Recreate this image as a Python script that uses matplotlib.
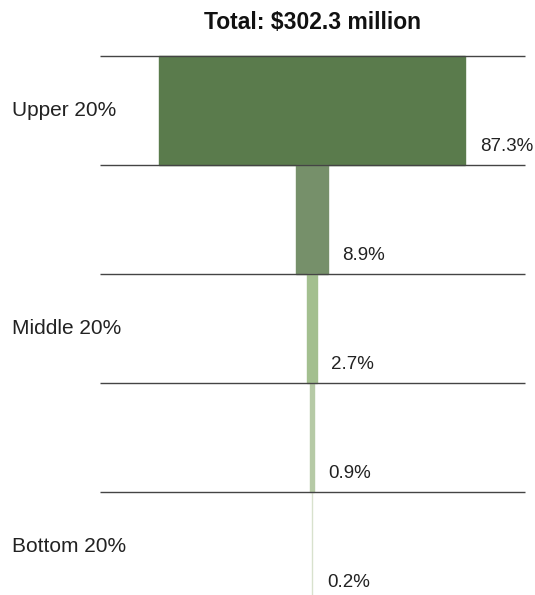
import matplotlib
matplotlib.use("agg")
import matplotlib.pyplot as plt

# share of total wealth by group (percent), top to bottom
shares = [87.3, 8.9, 2.7, 0.9, 0.2]
share_labels = ["87.3%", "8.9%", "2.7%", "0.9%", "0.2%"]
row_labels = ["Upper 20%", "", "Middle 20%", "", "Bottom 20%"]
colors = ["#5a7b4c", "#76906a", "#a3bf8f", "#b6caa6", "#d8e1cd"]
title = "Total: $302.3 million"

plt.rcParams["font.family"] = ["Liberation Sans", "DejaVu Sans"]

fig = plt.figure(figsize=(5.35, 5.95), dpi=100)
ax = fig.add_axes([0, 0, 1, 1])
ax.set_xlim(-89.0, 63.6)
ax.set_ylim(4.945, -0.514)
ax.axis("off")

rows = range(len(shares))
# thin edge in the same colour so the tiny bottom bar still shows
ax.barh(list(rows), shares, height=1.0, left=[-s / 2 for s in shares],
        align="edge", color=colors, edgecolor=colors, linewidth=1.0, zorder=2)

ax.hlines(list(rows), -60.5, 60.8, color="#444444", linewidth=1.0, zorder=3)

for i, (s, lab) in enumerate(zip(shares, share_labels)):
    ax.text(s / 2 + 4.2, i + 1 - 0.17, lab, fontsize=13.5, color="#222222",
            ha="left", va="center")
    if row_labels[i]:
        ax.text(-85.6, i + 0.5, row_labels[i], fontsize=15, color="#222222",
                ha="left", va="center")

ax.text(0, -0.31, title, fontsize=16.5, fontweight="bold", color="#111111",
        ha="center", va="center")

fig.savefig("out.png", dpi=100)
